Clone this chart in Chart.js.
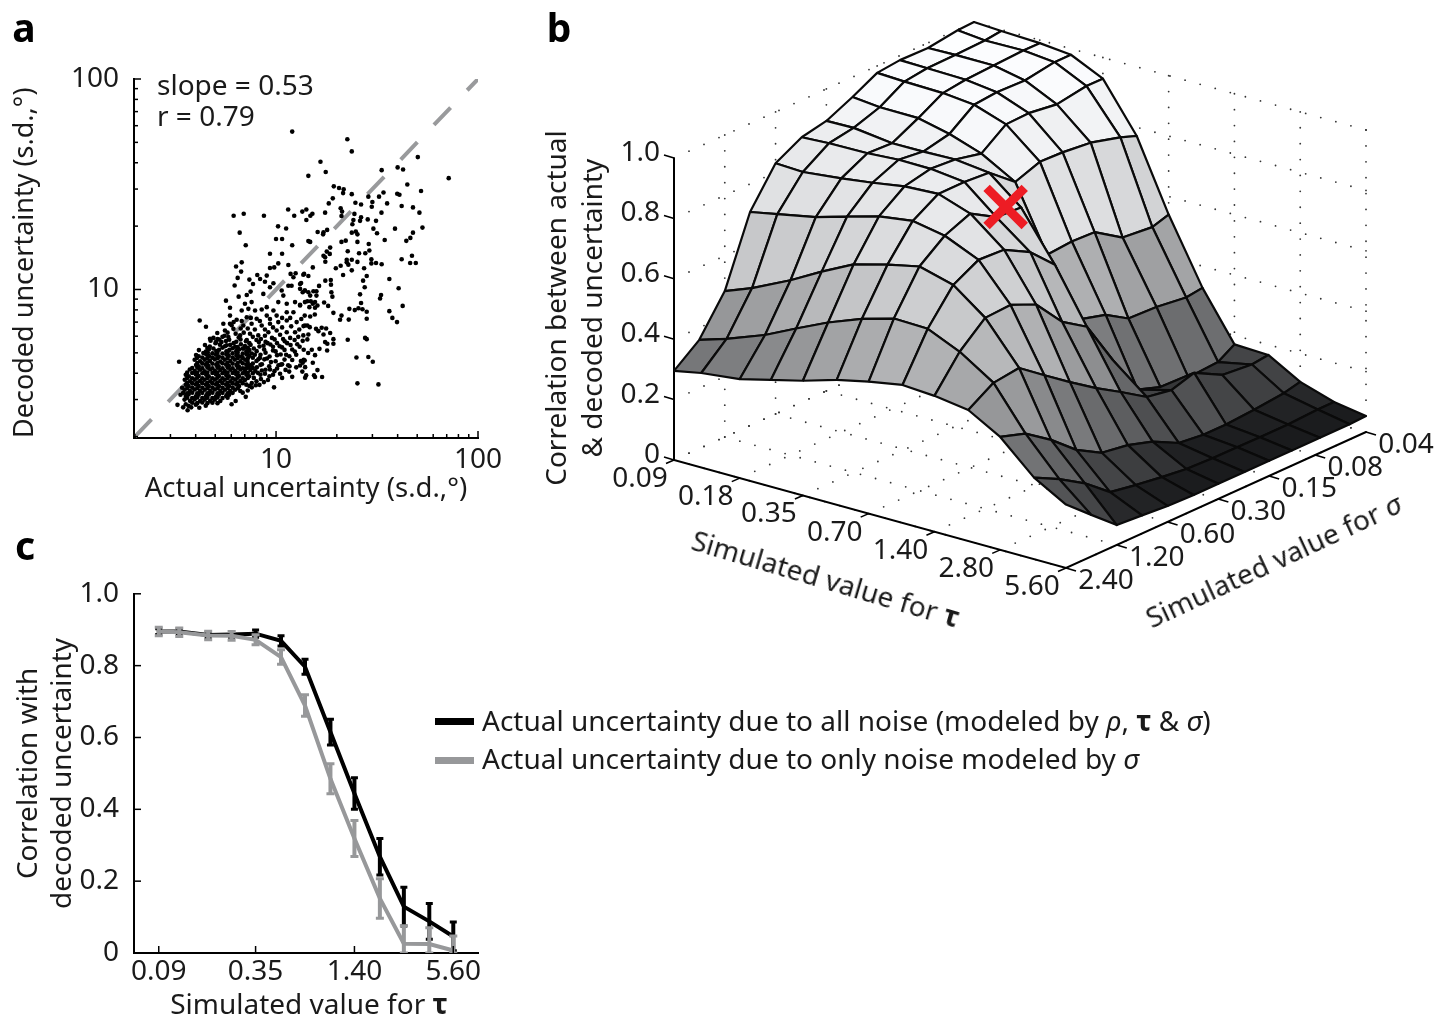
<!DOCTYPE html>
<html>
<head>
<meta charset="utf-8">
<script src="https://cdn.jsdelivr.net/npm/chart.js@4"></script>
<style>
    body { margin: 0; background: #fff; }
    #page { position: relative; width: 1451px; height: 1018px; overflow: hidden; font-family: "Noto Sans", sans-serif; font-size: 28px; color: #1a1a1a; }
    canvas { position: absolute; }
    .txt { position: absolute; white-space: nowrap; line-height: 1; }
    .mid { transform: translate(-50%, -50%); text-align: center; }
    .letter { font-weight: 700; font-size: 39px; color: #000; }
    .swatch { position: absolute; left: 435px; width: 39px; height: 7px; }
    b { font-weight: 700; }
    i { font-style: italic; }
</style>
</head>
<body>
<div id="page">
    <canvas id="chartA" width="540" height="466" style="left:0;top:40px"></canvas>
    <canvas id="chartB" width="921" height="640" style="left:530px;top:0"></canvas>
    <canvas id="chartC" width="540" height="448" style="left:0;top:570px"></canvas>

    <div class="txt letter mid" style="left:24px;top:26px">a</div>
    <div class="txt letter mid" style="left:559px;top:26px">b</div>
    <div class="txt letter mid" style="left:25px;top:544px">c</div>

    <div class="txt" style="left:157px;top:70px">slope = 0.53</div>
    <div class="txt" style="left:157px;top:101px">r = 0.79</div>

    <div class="txt mid" style="left:573px;top:308px;line-height:36px;transform:translate(-50%,-50%) rotate(-90deg)">Correlation between actual<br>&amp; decoded uncertainty</div>
    <div class="txt mid" style="left:826px;top:578px;transform:translate(-50%,-50%) rotate(16.5deg)">Simulated value for <b>τ</b></div>
    <div class="txt mid" style="left:1273px;top:560px;transform:translate(-50%,-50%) rotate(-25deg)">Simulated value for <i>σ</i></div>

    <div class="txt mid" style="left:309px;top:1003px">Simulated value for <b>τ</b></div>

    <div class="swatch" style="top:718px;background:#000"></div>
    <div class="swatch" style="top:757px;background:#97989a"></div>
    <div class="txt" style="left:482px;top:706px">Actual uncertainty due to all noise (modeled by <i>ρ</i>, <b>τ</b> &amp; <i>σ</i>)</div>
    <div class="txt" style="left:482px;top:744px">Actual uncertainty due to only noise modeled by <i>σ</i></div>
</div>

<script>
    // panel a: log10 of [actual, decoded] s.d.
    const uncertaintyLog = [
        [1.08,1.75],[1.16,1.54],[.79,1.35],[.84,1.36],[.94,1.35],[1.06,1.38],[1.09,1.35],[1.13,1.37],[1.15,1.38],[1.15,1.33],[1.17,1.35],
        [1.01,1.30],[1.05,1.29],[.82,1.27],[1.0,1.24],[1.03,1.24],[.85,1.21],[1.08,1.21],[1.16,1.23],[.97,1.17],[1.03,1.17],
        [1.353,1.714],[1.375,1.656],[1.22,1.607],[1.246,1.558],[1.523,1.567],[1.602,1.58],[1.629,1.57],[1.702,1.629],[1.855,1.529],[1.65,1.499],
        [1.718,1.468],[1.286,1.49],[1.312,1.482],[1.335,1.476],[1.332,1.458],[1.375,1.453],[1.281,1.433],[1.261,1.409],[1.457,1.441],[1.532,1.461],
        [1.51,1.441],[1.6,1.455],[1.611,1.45],[1.393,1.412],[1.421,1.404],[1.477,1.416],[1.474,1.393],[1.55,1.409],[1.622,1.397],[1.678,1.39],
        [1.71,1.365],[1.522,1.365],[1.18,1.36],[1.243,1.365],[1.32,1.386],[1.327,1.37],[1.324,1.349],[1.388,1.359],[1.421,1.343],[1.416,1.326],
        [1.383,1.33],[1.378,1.31],[1.454,1.333],[1.495,1.326],[1.482,1.289],[1.5,1.267],[1.589,1.289],[1.725,1.294],[1.678,1.27],[1.665,1.245],
        [1.645,1.231],[1.538,1.235],[1.375,1.27],[1.395,1.275],[1.403,1.262],[1.253,1.283],[1.235,1.272],[1.233,1.262],[1.206,1.273],[1.169,1.226],
        [1.324,1.226],[1.345,1.232],[1.403,1.226],[1.459,1.216],[1.268,1.199],[1.251,1.18],[1.266,1.169],[1.235,1.16],[1.243,1.153],[1.355,1.182],
        [1.411,1.172],[1.442,1.172],[1.462,1.185],[1.472,1.144],[1.622,1.144],[1.673,1.16],[1.35,1.141],[1.375,1.141],
        [1.244,1.132],[1.32,1.113],[1.296,1.101],[1.35,1.129],[1.358,1.118],[1.375,1.091],[1.403,1.131],[1.436,1.101],[1.472,1.124],[1.495,1.126],
        [1.523,1.12],[1.664,1.126],[1.692,1.126],[1.332,1.069],[1.449,1.064],[1.431,1.042],[1.561,1.05],[1.439,1.011],[1.607,1.006],[1.182,1.105],
        [1.139,1.074],[1.16,1.064],[1.244,1.042],[1.271,1.045],[1.272,1.023],[1.213,1.017],[1.124,1.031],[1.274,.987],[1.279,.966],[1.416,.977],
        [1.52,.974],[1.515,.957],[1.2,.992],[1.2,.971],[1.142,.995],[1.132,.987],[1.169,.971],[1.185,.992],[1.172,.944],[1.193,.94],[1.155,.944],
        [1.182,.932],[1.119,.927],[1.238,.938],[1.258,.922],[1.205,.924],[1.193,.913],[1.165,.916],[1.627,.922],[1.421,.936],[1.363,.908],[1.39,.902],
        [1.408,.911],[1.428,.906],[1.449,.894],[1.561,.897],[1.576,.865],[1.599,.845],[1.284,.889],[1.324,.876],[1.317,.856],[1.36,.857],[1.449,.861],
        [1.142,.876],[1.169,.872],[1.192,.881],[1.136,.826],[1.155,.829],[1.167,.821],[1.198,.813],[1.21,.802],[1.226,.818],[1.248,.815],[1.235,.786],
        [1.268,.793],[1.16,.786],[1.155,.763],[1.132,.756],[1.284,.764],[1.284,.742],[1.243,.75],[1.254,.742],[1.355,.761],[1.441,.77],[1.449,.764],
        [1.215,.718],[1.253,.71],[1.177,.714],[1.159,.698],[1.193,.688],[1.398,.677],[1.457,.679],[1.479,.657],[1.182,.652],[1.142,.663],[1.132,.652],
        [1.119,.639],[1.144,.631],[1.205,.617],[1.149,.592],[1.144,.581],[1.188,.592],[1.193,.584],[1.228,.584],[1.403,.554],[1.507,.549],
        [.802,1.109],[.83,1.129],[.827,1.085],[.81,1.055],[.795,1.019],[.868,1.047],[.886,1.026],[.907,1.069],[.921,1.05],[.945,1.037],[.954,1.066],
        [.97,1.102],[.991,1.105],[1.011,1.124],[1.061,1.116],[.97,1.011],[.987,1.03],[1.072,1.074],[1.097,1.077],[1.086,1.058],[1.135,1.07],
        [1.028,.995],[1.061,1.018],[1.077,1.018],[1.119,1.026],[1.119,1.003],[1.143,.995],[1.16,.987],[.855,.974],[.815,.966],[.874,.99],[.937,.979],
        [.752,.947],[.772,.913],[.846,.932],[.879,.94],[.83,.9],[.863,.908],[.896,.9],[.929,.905],[.954,.916],[.987,.9],[1.011,.94],[1.036,.971],
        [1.053,.932],[1.094,.94],[1.119,.924],[1.143,.94],[.772,.876],[.855,.868],[.904,.861],[.954,.876],[1.003,.876],[1.053,.892],[1.086,.892],
        [.622,.853],[.653,.823],[.709,.793],[.673,.766],[.739,.837],[.772,.837],[.805,.856],[.747,.805],[.789,.813],[.838,.829],[.879,.837],[.929,.829],
        [.97,.837],[1.011,.845],[1.053,.853],[1.102,.845],[1.143,.829],[.764,.774],[.822,.782],[.871,.79],[.912,.782],[.962,.797],[1.003,.805],
        [1.053,.797],[1.094,.797],[1.135,.782],[.52,.657],[.99,.535],
        // dense cloud, estimated
        [.676,.757],[.703,.751],[.719,.762],[.752,.755],[.768,.761],[.803,.752],[.824,.763],[.851,.754],[.903,.76],[.948,.751],[.993,.763],[1.043,.754],[1.092,.76],
        [.648,.736],[.672,.729],[.722,.738],[.747,.73],[.773,.737],[.798,.728],[.826,.74],[.846,.731],[.874,.737],[.918,.729],[.972,.739],[1.018,.73],[1.072,.736],[1.117,.728],
        [.618,.712],[.653,.705],[.668,.716],[.704,.708],[.718,.714],[.754,.706],[.769,.713],[.803,.707],[.817,.715],[.853,.706],[.868,.712],[.904,.707],[.941,.715],[.998,.706],[1.042,.713],[1.093,.705],[1.137,.714],
        [.604,.689],[.617,.683],[.654,.692],[.668,.684],[.703,.69],[.717,.682],[.754,.691],[.766,.685],[.804,.688],[.816,.683],[.854,.691],[.867,.684],[.923,.69],[.968,.682],[1.023,.691],[1.066,.683],
        [.597,.666],[.624,.659],[.646,.667],[.673,.66],[.697,.668],[.724,.658],[.746,.666],[.774,.66],[.796,.667],[.824,.659],[.847,.666],[.903,.66],[.942,.668],[.998,.659],[1.042,.667],[1.123,.66],[1.137,.666],
        [.604,.641],[.617,.635],[.653,.643],[.666,.636],[.704,.642],[.716,.635],[.753,.643],[.767,.636],[.804,.641],[.816,.634],[.853,.643],[.868,.636],[.923,.642],[.966,.635],[1.024,.643],[1.067,.635],
        [.573,.62],[.597,.612],[.624,.619],[.646,.611],[.674,.62],[.697,.613],[.724,.618],[.746,.612],[.774,.619],[.797,.612],[.824,.62],[.846,.611],[.873,.618],[.897,.613],[.948,.619],[.992,.612],[1.047,.618],
        [.553,.595],[.568,.588],[.603,.596],[.617,.589],[.654,.595],[.667,.587],[.703,.596],[.717,.589],[.753,.594],[.767,.588],[.803,.596],[.817,.589],[.853,.595],[.867,.588],[.923,.595],[.967,.588],
        [.548,.571],[.574,.564],[.597,.572],[.624,.565],[.646,.571],[.674,.564],[.697,.572],[.724,.565],[.746,.571],[.774,.564],[.797,.572],[.824,.565],[.846,.57],[.903,.564],
        [.553,.548],[.567,.541],[.603,.549],[.617,.542],[.653,.548],[.667,.541],[.703,.549],[.717,.541],[.753,.548],[.767,.542],[.803,.549],[.817,.541],[.853,.548],[.868,.542],[.918,.547],
        [.547,.524],[.574,.517],[.597,.525],[.624,.518],[.647,.524],[.674,.517],[.697,.525],[.724,.518],[.747,.524],[.773,.517],[.797,.524],[.823,.518],
        [.527,.5],[.553,.494],[.567,.501],[.603,.493],[.617,.5],[.653,.494],[.667,.501],[.703,.493],[.717,.5],[.753,.494],[.768,.5],
        [.547,.477],[.574,.471],[.597,.478],[.624,.47],[.647,.477],[.674,.471],[.697,.477],[.724,.47],
        [.512,.452],[.553,.455],[.567,.447],[.603,.453],[.652,.448],[.562,.426],
        // darkest part of the cloud
        [.66,.722],[.69,.72],[.735,.724],[.785,.721],[.81,.726],[.835,.72],[.86,.723],[.64,.698],[.662,.7],[.685,.697],[.71,.699],[.735,.696],[.76,.699],[.785,.697],[.81,.7],[.835,.696],[.86,.699],[.88,.696],
        [.608,.675],[.635,.677],[.66,.674],[.685,.676],[.71,.673],[.735,.676],[.76,.674],[.785,.677],[.81,.674],[.835,.675],[.86,.673],[.885,.676],[.92,.675],
        [.61,.651],[.635,.649],[.66,.652],[.685,.648],[.71,.651],[.735,.649],[.76,.652],[.785,.648],[.81,.651],[.835,.649],[.86,.651],[.885,.648],
        [.585,.627],[.61,.628],[.635,.626],[.66,.629],[.685,.626],[.71,.628],[.735,.626],[.76,.629],[.785,.626],[.81,.628],[.835,.626],[.86,.628],[.885,.627],
        [.56,.605],[.585,.603],[.61,.605],[.635,.602],[.66,.605],[.685,.603],[.71,.605],[.735,.602],[.76,.605],[.785,.603],[.81,.605],[.835,.602],[.86,.604],[.885,.602],[.91,.604],
        [.56,.58],[.585,.578],[.61,.581],[.635,.578],[.66,.58],[.685,.578],[.71,.581],[.735,.578],[.76,.58],[.785,.578],[.81,.581],[.835,.578],[.86,.58],
        [.56,.557],[.585,.555],[.61,.558],[.635,.555],[.66,.557],[.685,.555],[.71,.558],[.735,.555],[.76,.557],[.785,.555],[.81,.558],[.835,.555],[.88,.556],
        [.535,.533],[.56,.531],[.585,.534],[.61,.531],[.635,.533],[.66,.531],[.685,.534],[.71,.531],[.735,.533],[.76,.531],[.785,.534],[.81,.531],
        [.54,.509],[.56,.507],[.585,.51],[.61,.507],[.635,.509],[.66,.507],[.685,.51],[.71,.507],[.735,.509],[.76,.507],[.785,.509],
        [.56,.486],[.585,.484],[.61,.487],[.635,.484],[.66,.486],[.685,.484],[.71,.487],[.735,.484],[.76,.486],
        [.585,.462],[.61,.46],[.635,.463],[.66,.46],[.685,.462],[.71,.46],[.54,.44],[.58,.44],[.62,.438],
        // upper shoulder of the cloud
        [.83,.68],[.858,.662],[.877,.641],[.895,.69],[.912,.668],[.93,.645],[.948,.7],[.955,.672],[.975,.655],[.985,.71],[1.005,.688],[1.012,.64],
        [.84,.72],[.868,.745],[.89,.72],[.915,.75],[.938,.733],[.958,.745],[.985,.728],[1.005,.745],[1.03,.725],[1.055,.745],[1.08,.715],[1.105,.74],
        [.79,.745],[.815,.772],[.84,.795],[.855,.76],[.885,.775],[.925,.765],[.945,.78],[.98,.77],[1.02,.785],[1.035,.765],[1.07,.77],[1.11,.775],
        [.735,.775],[.76,.795],[.8,.79],[.78,.83],[.825,.815],[.86,.815],[.895,.81],[.945,.81],[.985,.82],[1.03,.82],[1.075,.825],[1.115,.81],
        [.7,.745],[.73,.75],[.755,.735],[.69,.77],[.71,.765],[.745,.78],[.79,.845],[.83,.85],[.875,.865],[.92,.85],[.97,.86],[1.03,.865],[1.07,.865],[1.125,.86],
        [.85,.625],[.905,.63],[.93,.615],[.97,.62],[1.005,.625],[1.03,.645],[.89,.58],[.925,.575],[.945,.6],[.985,.595],[1.02,.6],[1.065,.61],[.88,.535],[.9,.545],[.94,.56],[.96,.57],
        [1.05,.69],[1.08,.665],[1.1,.69],[1.06,.64],[1.1,.63],[1.13,.61],[1.03,.58],[1.08,.585],[.835,.51],[.86,.52],[.85,.49],[.8,.47],[.78,.455]
    ];
    const diagonalLine = [2, 100];

    // panel b: correlation per simulated sigma (rows) and tau (columns)
    const tauValues = [0.09, 0.12, 0.18, 0.25, 0.35, 0.5, 0.7, 1.0, 1.4, 2.0, 2.8, 4.0, 5.6];
    const sigmaValues = [2.4, 1.7, 1.2, 0.85, 0.6, 0.42, 0.3, 0.21, 0.15, 0.11, 0.075, 0.05, 0.04];
    const correlationGrid = [
        [.295,.313,.328,.354,.38,.414,.437,.457,.45,.434,.374,.27,.21],
        [.36,.388,.436,.486,.535,.578,.608,.605,.558,.486,.347,.227,.138],
        [.483,.518,.579,.636,.689,.719,.742,.712,.632,.497,.288,.175,.066],
        [.707,.725,.75,.78,.81,.826,.806,.757,.637,.435,.217,.108,.06],
        [.83,.826,.84,.854,.871,.877,.841,.752,.6,.374,.169,.093,.053],
        [.877,.882,.884,.891,.89,.877,.79,.705,.503,.315,.155,.08,.05],
        [.894,.896,.88,.881,.884,.871,.785,.626,.45,.265,.13,.07,.05],
        [.934,.925,.924,.9,.864,.801,.589,.407,.3,.209,.086,.066,.05],
        [.977,.973,.97,.96,.924,.831,.596,.384,.166,.195,.076,.066,.05],
        [.985,.983,.98,.967,.927,.828,.593,.338,.14,.218,.076,.065,.05],
        [.983,.985,.985,.964,.914,.818,.533,.334,.13,.169,.083,.065,.05],
        [.997,.988,.99,.98,.93,.791,.523,.321,.136,.159,.093,.07,.05],
        [1.0,.995,.99,.98,.93,.771,.54,.328,.17,.166,.106,.07,.053]
    ];
    const tauTicks = ['0.09', '0.18', '0.35', '0.70', '1.40', '2.80', '5.60'];
    const sigmaTicks = ['2.40', '1.20', '0.60', '0.30', '0.15', '0.08', '0.04'];
    const zTicks = [0, 0.2, 0.4, 0.6, 0.8, 1.0];
    const bestFit = { tau: 0.7, sigma: 0.37, z: 0.81 };

    // panel c
    const tauLine = [0.09, 0.12, 0.18, 0.25, 0.35, 0.5, 0.7, 1.0, 1.4, 2.0, 2.8, 4.0, 5.6];
    const allNoise = [.895, .895, .885, .887, .889, .869, .797, .615, .444, .268, .129, .088, .046];
    const allNoiseErr = [.008, .008, .008, .008, .01, .014, .021, .036, .044, .051, .054, .05, .04];
    const sigmaNoise = [.895, .893, .884, .883, .872, .824, .689, .485, .319, .152, .026, .025, .007];
    const sigmaNoiseErr = [.012, .012, .012, .012, .014, .02, .03, .042, .05, .055, .05, .045, .04];

    const BLACK = '#000';
    const GRAY = '#97989a';
    const TEXT = '#1a1a1a';

    Chart.defaults.font.family = '"Noto Sans", sans-serif';
    Chart.defaults.font.size = 28;
    Chart.defaults.color = TEXT;
    Chart.defaults.animation = false;
    Chart.defaults.responsive = false;
    Chart.defaults.events = [];
    Chart.defaults.plugins.legend.display = false;
    Chart.defaults.plugins.tooltip.enabled = false;

    // MATLAB-style ticks, drawn inward from the axis line
    const inwardTicks = {
        id: 'inwardTicks',
        afterDraw(chart, _, opts) {
            const { ctx, chartArea: area, scales } = chart;
            ctx.save();
            ctx.strokeStyle = BLACK;
            ctx.lineWidth = 1.5;
            const mark = (px, len, isX) => {
                ctx.beginPath();
                if (isX) { ctx.moveTo(px, area.bottom); ctx.lineTo(px, area.bottom - len); }
                else { ctx.moveTo(area.left, px); ctx.lineTo(area.left + len, px); }
                ctx.stroke();
            };
            opts.xMajor.forEach(v => mark(scales.x.getPixelForValue(v), 7, true));
            opts.xMinor.forEach(v => mark(scales.x.getPixelForValue(v), 4, true));
            opts.yMajor.forEach(v => mark(scales.y.getPixelForValue(v), 7, false));
            opts.yMinor.forEach(v => mark(scales.y.getPixelForValue(v), 4, false));
            ctx.restore();
        }
    };

    const sizeScale = (scale, side) => {
        if (scale.isHorizontal()) scale.height = side; else scale.width = side;
    };

    // ---------- panel a ----------
    const logMinor = [2, 3, 4, 5, 6, 7, 8, 9, 20, 30, 40, 50, 60, 70, 80, 90];

    new Chart(document.getElementById('chartA'), {
        type: 'scatter',
        plugins: [inwardTicks],
        data: {
            datasets: [
                {
                    data: uncertaintyLog.map(p => ({ x: 10 ** p[0], y: 10 ** p[1] })),
                    pointRadius: 2.3, pointBackgroundColor: BLACK, pointBorderWidth: 0, showLine: false
                },
                {
                    data: diagonalLine.map(v => ({ x: v, y: v })),
                    showLine: true, pointRadius: 0, borderColor: '#999a9c', borderWidth: 4, borderDash: [24, 24]
                }
            ]
        },
        options: {
            layout: { autoPadding: false, padding: { top: 39, right: 62, left: 0, bottom: 0 } },
            plugins: {
                inwardTicks: { xMajor: [10, 100], xMinor: logMinor, yMajor: [10, 100], yMinor: logMinor }
            },
            scales: {
                x: {
                    type: 'logarithmic', min: 1.98, max: 100,
                    afterBuildTicks: s => { s.ticks = [{ value: 10 }, { value: 100 }]; },
                    afterFit: s => sizeScale(s, 68),
                    grid: { display: false },
                    border: { color: BLACK, width: 2 },
                    ticks: { callback: v => String(v), padding: -3, maxRotation: 0, autoSkip: false },
                    title: { display: true, text: 'Actual uncertainty (s.d.,°)', padding: { top: 0, bottom: 0 }, font: { size: 27.5 } }
                },
                y: {
                    type: 'logarithmic', min: 1.97, max: 100,
                    afterBuildTicks: s => { s.ticks = [{ value: 10 }, { value: 100 }]; },
                    afterFit: s => sizeScale(s, 134),
                    grid: { display: false },
                    border: { color: BLACK, width: 2 },
                    ticks: { callback: v => String(v), padding: 7, autoSkip: false },
                    title: { display: true, text: 'Decoded uncertainty (s.d.,°)', align: 'start', padding: { top: 9, bottom: 0 }, font: { size: 27 } }
                }
            }
        }
    });

    // ---------- panel b ----------
    const tauPos = t => Math.log2(t / 0.09) / Math.log2(5.6 / 0.09);
    const sigmaPos = s => Math.log2(2.4 / s) / Math.log2(2.4 / 0.04);
    // parallel projection of (tau, sigma, z) onto the page
    const project = (tau, sigma, z) => {
        const u = tauPos(tau), v = sigmaPos(sigma);
        return { x: 674 + 392 * u + 300 * v, y: 460 + 108 * u - 136 * v - 302 * z };
    };

    const grayStops = [[0, 16], [.06, 24], [.1, 36], [.17, 68], [.33, 110], [.5, 154], [.7, 198], [.77, 210], [.83, 224], [.93, 242], [1, 253]];
    const faceColor = z => {
        let k = 1;
        while (k < grayStops.length - 1 && z > grayStops[k][0]) k++;
        const [z0, g0] = grayStops[k - 1], [z1, g1] = grayStops[k];
        const g = Math.round(g0 + (g1 - g0) * (z - z0) / (z1 - z0));
        return `rgb(${g},${g + 1},${Math.min(g + 3, 255)})`;
    };

    const surfaceSets = [];
    for (let j = 0; j < sigmaValues.length - 1; j++) {
        for (let i = tauValues.length - 2; i >= 0; i--) {
            const corner = (a, b) => project(tauValues[a], sigmaValues[b], correlationGrid[b][a]);
            surfaceSets.push({
                data: [corner(i, j), corner(i + 1, j), corner(i + 1, j + 1), corner(i, j + 1), corner(i, j)],
                showLine: true, pointRadius: 0, fill: 'shape', tension: 0,
                backgroundColor: faceColor(correlationGrid[j + 1][i]),
                borderColor: '#0a0a0a', borderWidth: 2.2, borderJoinStyle: 'round'
            });
        }
    }

    // dotted box grid behind the surface
    const dots = [];
    const tauLo = 0.09, tauHi = 5.6, sigLo = 0.04, sigHi = 2.4;
    const along = (from, to, n) => {
        for (let k = 0; k <= n; k++) {
            dots.push({ x: from.x + (to.x - from.x) * k / n, y: from.y + (to.y - from.y) * k / n });
        }
    };
    tauTicks.forEach(t => {
        along(project(+t, sigHi, 0), project(+t, sigLo, 0), 20);
        along(project(+t, sigLo, 0), project(+t, sigLo, 1), 19);
    });
    sigmaTicks.forEach(s => {
        along(project(tauLo, +s, 0), project(tauHi, +s, 0), 26);
        along(project(tauLo, +s, 0), project(tauLo, +s, 1), 19);
    });
    zTicks.forEach(z => {
        along(project(tauLo, sigHi, z), project(tauLo, sigLo, z), 20);
        along(project(tauLo, sigLo, z), project(tauHi, sigLo, z), 26);
    });

    const tickMarks = [];
    const addTick = (p, dx, dy) => tickMarks.push(p, { x: p.x + dx, y: p.y + dy }, { x: NaN, y: NaN });
    tauTicks.forEach(t => addTick(project(+t, sigHi, 0), -8, 3.5));
    sigmaTicks.forEach(s => addTick(project(tauHi, +s, 0), 10, 3));
    zTicks.forEach(z => addTick(project(tauLo, sigHi, z), -10, -3));

    const axisPath = [project(tauLo, sigHi, 1), project(tauLo, sigHi, 0), project(tauHi, sigHi, 0), project(tauHi, sigLo, 0)];

    const axisLabels3d = {
        id: 'axisLabels3d',
        afterDraw(chart) {
            const { ctx, scales } = chart;
            const put = (text, p, dx, dy, align) => {
                ctx.textAlign = align;
                ctx.fillText(text, scales.x.getPixelForValue(p.x) + dx, scales.y.getPixelForValue(p.y) + dy);
            };
            ctx.save();
            ctx.font = '28px "Noto Sans", sans-serif';
            ctx.fillStyle = TEXT;
            ctx.textBaseline = 'middle';
            tauTicks.forEach(t => put(t, project(+t, sigHi, 0), -34, 19, 'center'));
            sigmaTicks.forEach(s => put(s, project(tauHi, +s, 0), 40, 13, 'center'));
            zTicks.forEach(z => put(z === 0 ? '0' : z.toFixed(1), project(tauLo, sigHi, z), -14, -5, 'right'));
            ctx.restore();
        }
    };

    new Chart(document.getElementById('chartB'), {
        type: 'scatter',
        plugins: [axisLabels3d],
        data: {
            datasets: [
                {
                    data: [project(bestFit.tau, bestFit.sigma, bestFit.z)],
                    pointStyle: 'crossRot', pointRadius: 27, pointBorderColor: '#ed1c24', pointBorderWidth: 9, showLine: false
                },
                ...surfaceSets,
                { data: axisPath, showLine: true, pointRadius: 0, borderColor: BLACK, borderWidth: 2 },
                { data: tickMarks, showLine: true, pointRadius: 0, borderColor: BLACK, borderWidth: 1.6, spanGaps: false },
                { data: dots, pointRadius: 0.9, pointBackgroundColor: '#333', pointBorderWidth: 0, showLine: false }
            ]
        },
        options: {
            layout: { autoPadding: false, padding: 0 },
            plugins: { filler: { drawTime: 'beforeDatasetDraw' } },
            scales: {
                x: { type: 'linear', min: 530, max: 1451, display: false },
                y: { type: 'linear', min: 0, max: 640, reverse: true, display: false }
            }
        }
    });

    // ---------- panel c ----------
    const errorBars = (means, errs) => {
        const out = [];
        means.forEach((m, i) => {
            out.push({ x: tauLine[i], y: Math.max(m - errs[i], 0) }, { x: tauLine[i], y: m + errs[i] }, { x: tauLine[i], y: null });
        });
        return out;
    };
    const linePoints = means => means.map((m, i) => ({ x: tauLine[i], y: m }));

    new Chart(document.getElementById('chartC'), {
        type: 'scatter',
        plugins: [inwardTicks],
        data: {
            datasets: [
                { data: errorBars(sigmaNoise, sigmaNoiseErr), showLine: true, spanGaps: false, borderColor: GRAY, borderWidth: 4, pointStyle: 'line', pointRadius: 4, pointBorderColor: GRAY, pointBorderWidth: 3 },
                { data: linePoints(sigmaNoise), showLine: true, pointRadius: 0, borderColor: GRAY, borderWidth: 4 },
                { data: errorBars(allNoise, allNoiseErr), showLine: true, spanGaps: false, borderColor: BLACK, borderWidth: 4, pointStyle: 'line', pointRadius: 3.5, pointBorderColor: BLACK, pointBorderWidth: 3 },
                { data: linePoints(allNoise), showLine: true, pointRadius: 0, borderColor: BLACK, borderWidth: 4 }
            ]
        },
        options: {
            layout: { autoPadding: false, padding: { top: 22, right: 62, left: 0, bottom: 0 } },
            plugins: {
                inwardTicks: { xMajor: [0.09, 0.35, 1.4, 5.6], xMinor: [], yMajor: [0, 0.2, 0.4, 0.6, 0.8, 1], yMinor: [] }
            },
            scales: {
                x: {
                    type: 'logarithmic', min: 0.0636, max: 7.92,
                    afterBuildTicks: s => { s.ticks = [0.09, 0.35, 1.4, 5.6].map(value => ({ value })); },
                    afterFit: s => sizeScale(s, 65),
                    grid: { display: false },
                    border: { color: BLACK, width: 2 },
                    ticks: { callback: v => v.toFixed(2), padding: -6, maxRotation: 0, autoSkip: false }
                },
                y: {
                    min: 0, max: 1,
                    afterFit: s => sizeScale(s, 134),
                    grid: { display: false },
                    border: { color: BLACK, width: 2 },
                    ticks: { stepSize: 0.2, callback: v => (v === 0 ? '0' : v.toFixed(1)), padding: 7 },
                    title: { display: true, text: ['Correlation with', 'decoded uncertainty'], padding: { top: 12, bottom: 0 }, font: { lineHeight: 1.22 } }
                }
            }
        }
    });
</script>
</body>
</html>
